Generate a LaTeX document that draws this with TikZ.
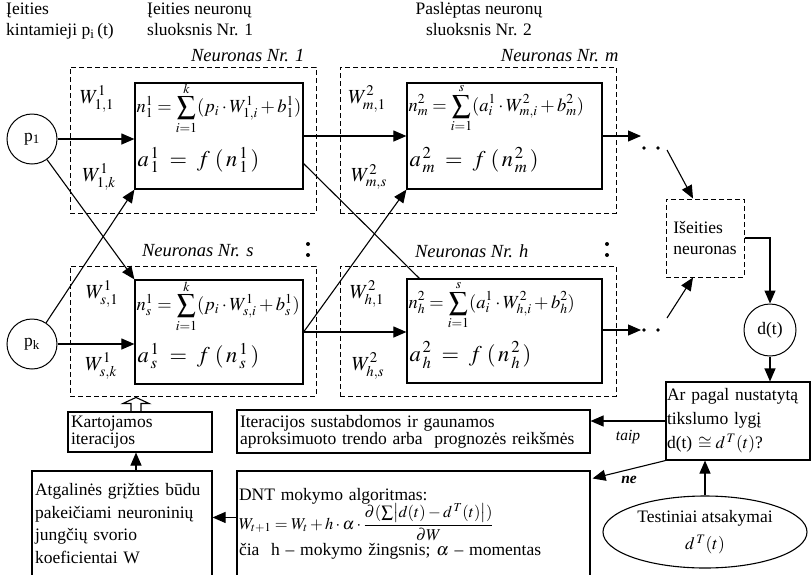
\documentclass[tikz,border=0pt]{standalone}
\usepackage{amsmath,amssymb}
\usepackage{mathptmx}
\usepackage[no-math]{fontspec}
\setmainfont{Liberation Serif}
\usepackage{tikz}
\usetikzlibrary{shapes,arrows.meta,positioning,calc}

\begin{document}
\begin{tikzpicture}[x=1pt,y=-1pt,
  every node/.style={font=\fontsize{17.5}{21}\selectfont},
  neuron/.style={draw, line width=1.2pt, minimum width=168pt, minimum height=106pt, inner sep=0pt},
  layer/.style={draw, line width=1pt, dash pattern=on 5pt off 3pt, inner sep=0pt},
  inp/.style={draw, circle, line width=1pt, minimum size=50pt, inner sep=0pt},
  wgt/.style={font=\fontsize{20}{22}\selectfont},
  title/.style={font=\itshape\fontsize{18.5}{20}\selectfont},
  sumf/.style={anchor=west, inner sep=0pt, font=\fontsize{18.5}{20}\selectfont},
  actf/.style={anchor=west, inner sep=0pt, font=\fontsize{22.5}{24}\selectfont},
  txtbox/.style={draw, line width=1.1pt, align=left, inner sep=3pt},
  link/.style={line width=1.1pt, -{Triangle[length=13pt,width=11pt]}},
  plain/.style={line width=1.1pt},
]
\useasboundingbox (0,0) rectangle (811,574);

% Headings
\node[anchor=north west, align=left, inner sep=0pt] (hin) at (6,3) {Įeities\\kintamieji p\textsubscript{i}\,(t)};
\node[anchor=north west, align=left, inner sep=0pt] (hl1) at (147,3) {Įeities neuronų\\sluoksnis Nr. 1};
\node[anchor=north, align=center, inner sep=0pt] (hl2) at (479,2) {Paslėptas neuronų\\sluoksnis Nr. 2};

% Input variables
\node[inp] (p1) at (32,139) {p\textsubscript{1}};
\node[inp] (pk) at (32,344) {p\textsubscript{k}};

% Layer frames
\node[layer, minimum width=246pt, minimum height=146pt] (L11) at (193,140) {};
\node[layer, minimum width=246pt, minimum height=130pt] (L1s) at (193,331) {};
\node[layer, minimum width=276pt, minimum height=146pt] (L2m) at (478,140) {};
\node[layer, minimum width=276pt, minimum height=130pt] (L2h) at (478,331) {};
\node[title, anchor=east] (t11) at (308,56) {Neuronas Nr. 1};
\node[title, anchor=east] (t1s) at (257,251) {Neuronas Nr. s};
\node[title, anchor=east] (t2m) at (622,56) {Neuronas Nr. m};
\node[title, anchor=east] (t2h) at (532,251) {Neuronas Nr. h};
\foreach \x in {308,607}
  \foreach \y in {244,255}
    \fill (\x,\y) circle (2);

% Neurons of layer 1
\node[neuron] (n11) at (219,136) {};
\node[neuron, minimum height=104pt] (n1s) at (219,332) {};
\node[sumf] (s11) at ($(n11.west)+(2,-28)$) {$\displaystyle n^1_1=\sum_{i=1}^{k}(p_i\cdot W^1_{1,i}+b^1_1)$};
\node[actf] (a11) at ($(n11.west)+(3,24)$) {$a^{\,1}_{\,1}\;=\;f\;(\,n^{\,1}_{\,1}\,)$};
\node[sumf] (s1s) at ($(n1s.west)+(2,-26)$) {$\displaystyle n^1_s=\sum_{i=1}^{k}(p_i\cdot W^1_{s,i}+b^1_s)$};
\node[actf] (a1s) at ($(n1s.west)+(3,24)$) {$a^{\,1}_{\,s}\;=\;f\;(\,n^{\,1}_{\,s}\,)$};

% Neurons of layer 2
\node[neuron, minimum width=195pt] (n2m) at (504.5,136) {};
\node[neuron, minimum width=195pt, minimum height=104pt] (n2h) at (504.5,331) {};
\node[sumf] (s2m) at ($(n2m.west)+(2,-28)$) {$\displaystyle n^2_m=\sum_{i=1}^{s}(a^1_i\cdot W^2_{m,i}+b^2_m)$};
\node[actf] (a2m) at ($(n2m.west)+(3,24)$) {$a^{\,2}_{\,m}\;=\;f\;(\,n^{\,2}_{\,m}\,)$};
\node[sumf] (s2h) at ($(n2h.west)+(2,-26)$) {$\displaystyle n^2_h=\sum_{i=1}^{s}(a^1_i\cdot W^2_{h,i}+b^2_h)$};
\node[actf] (a2h) at ($(n2h.west)+(3,24)$) {$a^{\,2}_{\,h}\;=\;f\;(\,n^{\,2}_{\,h}\,)$};

% Weights
\node[wgt] (w111) at (97,99) {$W^1_{1,1}$};
\node[wgt] (w11k) at (99,177) {$W^1_{1,k}$};
\node[wgt] (w1s1) at (102,294) {$W^1_{s,1}$};
\node[wgt] (w1sk) at (101,366) {$W^1_{s,k}$};
\node[wgt] (w2m1) at (367,99) {$W^2_{m,1}$};
\node[wgt] (w2ms) at (369,177) {$W^2_{m,s}$};
\node[wgt] (w2h1) at (367,294) {$W^2_{h,1}$};
\node[wgt] (w2hs) at (368,366) {$W^2_{h,s}$};

% Connections between layers
\draw[link] (p1.east) -- (p1.east -| n11.west);
\draw[link] (pk.east) -- (pk.east -| n1s.west);
\draw[link] (p1) -- (n1s.north west);
\draw[link] (pk) -- (n11.south west);
\draw[link] (n11.east) -- (n2m.west);
\draw[link] (n1s.east) -- (n1s.east -| n2h.west);
\draw[plain] ($(n11.south east)+(0,-26)$) -- ($(n2h.north west)+(13,0)$);
\draw[link] (n1s.east) -- (n2m.south west);

% Output neuron
\node[layer, minimum width=78pt, minimum height=78pt, align=left] (out) at (705,238) {Išeities\\neuronas};
\coordinate (mend) at (641,136);
\coordinate (mgo) at (667,150);
\coordinate (hend) at (641,330);
\coordinate (hgo) at (667,318);
\draw[link] (n2m.east) -- (mend);
\draw[link] (n2h.east |- hend) -- (hend);
\foreach \x in {644,658} {
  \fill (\x,148) circle (1.8);
  \fill (\x,330) circle (1.8);
}
\draw[link] (mgo) -- ($(out.north)+(-12,0)$);
\draw[link] (hgo) -- ($(out.south)+(-12,0)$);

% Check against test answers
\node[inp, minimum size=52pt] (dt) at (770,330) {d(t)};
\node[txtbox, minimum width=144pt, minimum height=78pt, text width=142pt, inner sep=1pt, font=\fontsize{17.5}{24}\selectfont] (dec) at (738,421) {Ar pagal nustatytą\\tikslumo lygį\\d(t) $\cong d^{\,T}(t)$?};
\node[draw, ellipse, line width=1.1pt, minimum width=204pt, minimum height=72pt, align=center, font=\fontsize{17.5}{27}\selectfont] (test) at (705,532) {Testiniai atsakymai\\$d^{\,T}(t)$};
\draw[link] (out.east) -| (dt.north);
\draw[link] (dt.south) -- (dt.south |- dec.north);
\draw[link] (test.north) -- (test.north |- dec.south);

% Result and training
\node[txtbox, minimum width=353pt, minimum height=43pt, text width=347pt, font=\fontsize{17.5}{17}\selectfont] (iter) at (413.5,431.5) {Iteracijos sustabdomos ir gaunamos\\aproksimuoto trendo arba\ \ prognozės reikšmės};
\node[txtbox, minimum width=353pt, minimum height=105pt, text width=349pt, inner sep=2pt, font=\fontsize{17.5}{19}\selectfont] (dnt) at (413.5,523.5) {DNT mokymo algoritmas:\\[-2pt]
  {\fontsize{16.5}{18}\selectfont$W_{t+1}=W_t+h\cdot\alpha\cdot\dfrac{\partial(\sum\bigl|d(t)-d^{\,T}(t)\bigr|)}{\partial W}$}\\[1pt]
  čia\ \ h -- mokymo žingsnis; $\alpha$ -- momentas\\[5pt]};
\node[txtbox, minimum width=144pt, minimum height=40pt, text width=138pt, font=\fontsize{17.5}{17}\selectfont] (kart) at (140,432) {Kartojamos\\iteracijos};
\node[txtbox, minimum width=180pt, minimum height=105pt, text width=174pt, font=\fontsize{17.5}{22.7}\selectfont] (atg) at (122,523.5) {Atgalinės grįžties būdu\\pakeičiami neuroninių\\jungčių svorio\\koeficientai W\\[6pt]};
\draw[link] (dec.west) -- (dec.west -| iter.east) node[pos=0.5, below=5pt, font=\itshape\fontsize{15.5}{17}\selectfont] (taip) {taip};
\draw[link] (dec.south west) -- ($(dnt.north east)+(2,8)$) node[pos=0.5, below=3pt, font=\bfseries\itshape\fontsize{15.5}{17}\selectfont] (ne) {ne};
\draw[link] ($(dnt.north west)+(0,47)$) -- ($(atg.north east)+(0,47)$);
\coordinate (up) at ($(kart.south)+(-4,0)$);
\draw[link] (up |- atg.north) -- (up);
% hollow arrow back to layer 1
\draw[line width=1.1pt] ($(kart.north)+(-9,0)$) -- ++(0,-8) -- ++(-8,0) -- ++(13,-6) -- ++(13,6) -- ++(-8,0) -- ++(0,8);
\end{tikzpicture}
\end{document}
